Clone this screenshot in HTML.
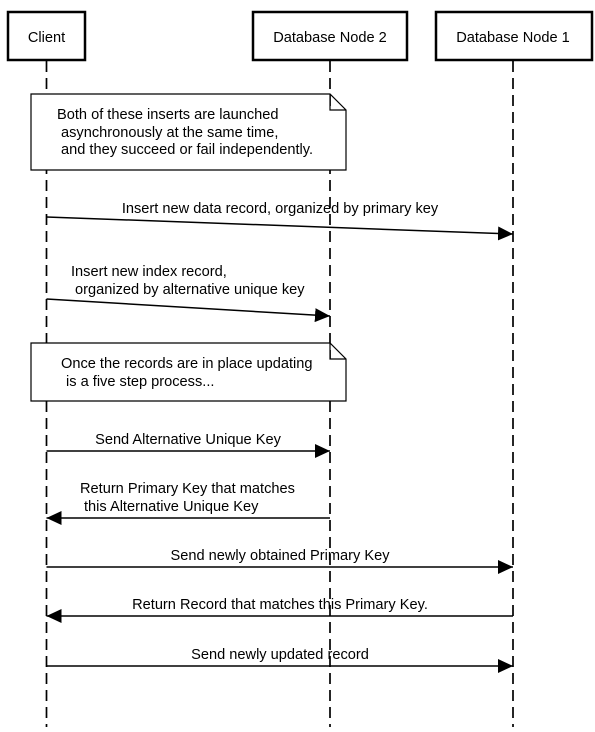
<!DOCTYPE html>
<html><head><meta charset="utf-8"><style>
html,body{margin:0;padding:0;background:#fff;}
svg text{font-family:"Liberation Sans",Arial,sans-serif;font-size:14.6px;fill:#000;}
</style></head><body>
<svg width="595" height="727" viewBox="0 0 595 727" xmlns="http://www.w3.org/2000/svg">
<defs>
<marker id="a" markerWidth="16" markerHeight="14" refX="15" refY="7" orient="auto" markerUnits="userSpaceOnUse">
<path d="M0,0 L15,7 L0,14 Z" fill="#000"/></marker>
</defs>
<g stroke="#000" stroke-width="1.7" stroke-dasharray="11 6" fill="none">
<line x1="46.5" y1="61" x2="46.5" y2="727"/>
<line x1="330" y1="61" x2="330" y2="727"/>
<line x1="513" y1="61" x2="513" y2="727"/>
</g>
<g stroke="#000" stroke-width="2.5" fill="#fff">
<rect x="8" y="12" width="77" height="48"/>
<rect x="253" y="12" width="154" height="48"/>
<rect x="436" y="12" width="156" height="48"/>
</g>
<text x="46.5" y="42" text-anchor="middle">Client</text>
<text x="330" y="42" text-anchor="middle">Database Node 2</text>
<text x="513" y="42" text-anchor="middle">Database Node 1</text>

<path d="M31,94 H330 L346,110 V170 H31 Z M330,94 V110 H346" fill="#fff" stroke="#000" stroke-width="1.2"/>
<text x="57" y="119">Both of these inserts are launched</text>
<text x="61" y="137">asynchronously at the same time,</text>
<text x="61" y="154">and they succeed or fail independently.</text>

<path d="M31,343 H330 L346,359 V401 H31 Z M330,343 V359 H346" fill="#fff" stroke="#000" stroke-width="1.2"/>
<text x="61" y="368">Once the records are in place updating</text>
<text x="66" y="386">is a five step process...</text>

<g stroke="#000" stroke-width="1.5" fill="none">
<line x1="46.5" y1="217" x2="513" y2="234" marker-end="url(#a)"/>
<line x1="46.5" y1="299" x2="330" y2="316" marker-end="url(#a)"/>
<line x1="46.5" y1="451" x2="330" y2="451" marker-end="url(#a)"/>
<line x1="330" y1="518" x2="46.5" y2="518" marker-end="url(#a)"/>
<line x1="46.5" y1="567" x2="513" y2="567" marker-end="url(#a)"/>
<line x1="513" y1="616" x2="46.5" y2="616" marker-end="url(#a)"/>
<line x1="46.5" y1="666" x2="513" y2="666" marker-end="url(#a)"/>
</g>
<text x="280" y="213" text-anchor="middle">Insert new data record, organized by primary key</text>
<text x="71" y="276">Insert new index record,</text>
<text x="75" y="294">organized by alternative unique key</text>
<text x="188" y="444" text-anchor="middle">Send Alternative Unique Key</text>
<text x="80" y="493">Return Primary Key that matches</text>
<text x="84" y="511">this Alternative Unique Key</text>
<text x="280" y="560" text-anchor="middle">Send newly obtained Primary Key</text>
<text x="280" y="609" text-anchor="middle">Return Record that matches this Primary Key.</text>
<text x="280" y="659" text-anchor="middle">Send newly updated record</text>
</svg>
</body></html>
